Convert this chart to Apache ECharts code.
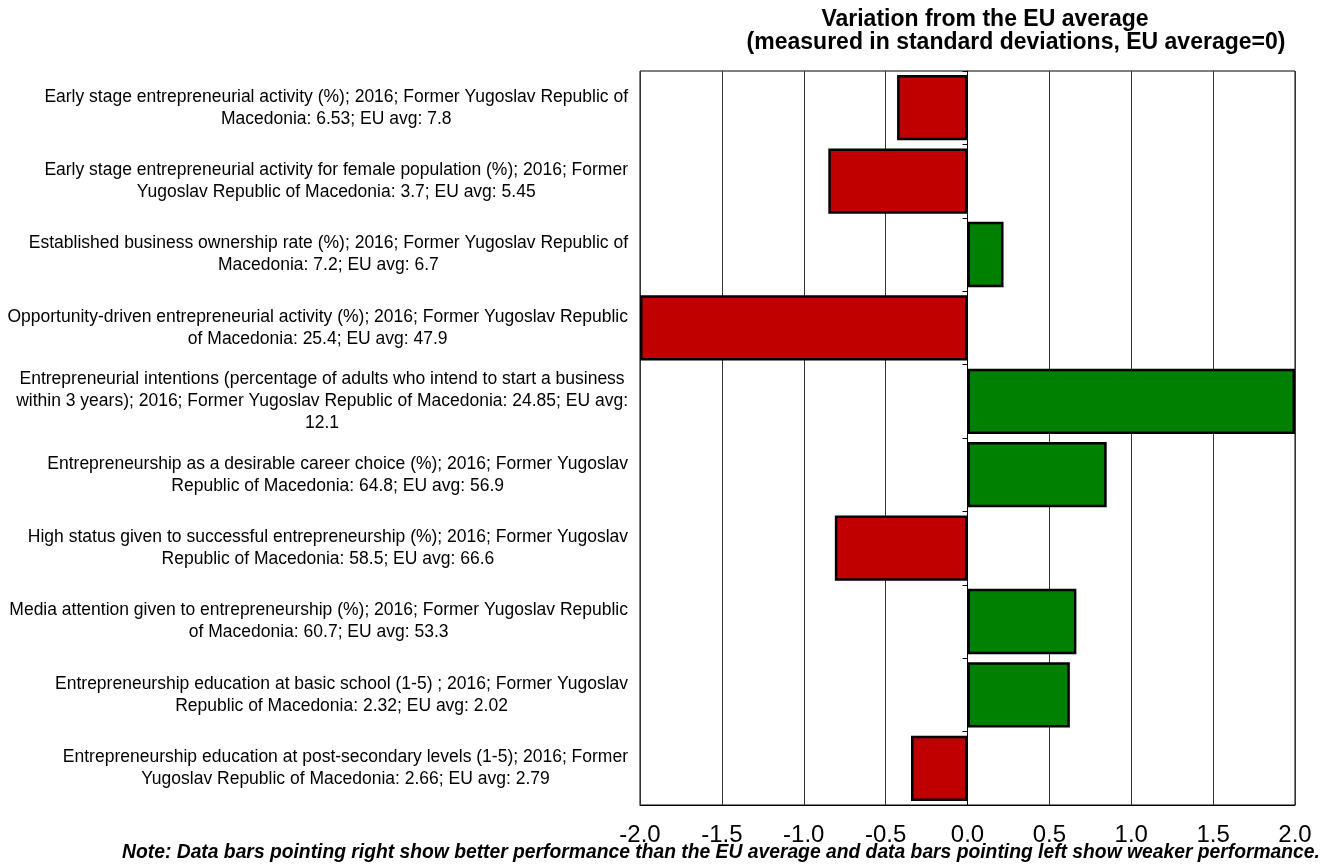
<!DOCTYPE html>
<html>
<head>
<meta charset="utf-8">
<script src="https://cdn.jsdelivr.net/npm/echarts@6/dist/echarts.min.js"></script>
<style>html,body{margin:0;padding:0;background:#fff}#c{width:1325px;height:867px}</style>
</head>
<body>
<div id="c"></div>
<script>
var categories = [
  "Early stage entrepreneurial activity (%); 2016; Former Yugoslav Republic of\nMacedonia: 6.53; EU avg: 7.8",
  "Early stage entrepreneurial activity for female population (%); 2016; Former\nYugoslav Republic of Macedonia: 3.7; EU avg: 5.45",
  "Established business ownership rate (%); 2016; Former Yugoslav Republic of\nMacedonia: 7.2; EU avg: 6.7",
  "Opportunity-driven entrepreneurial activity (%); 2016; Former Yugoslav Republic\nof Macedonia: 25.4; EU avg: 47.9",
  "Entrepreneurial intentions (percentage of adults who intend to start a business\nwithin 3 years); 2016; Former Yugoslav Republic of Macedonia: 24.85; EU avg:\n12.1",
  "Entrepreneurship as a desirable career choice (%); 2016; Former Yugoslav\nRepublic of Macedonia: 64.8; EU avg: 56.9",
  "High status given to successful entrepreneurship (%); 2016; Former Yugoslav\nRepublic of Macedonia: 58.5; EU avg: 66.6",
  "Media attention given to entrepreneurship (%); 2016; Former Yugoslav Republic\nof Macedonia: 60.7; EU avg: 53.3",
  "Entrepreneurship education at basic school (1-5) ; 2016; Former Yugoslav\nRepublic of Macedonia: 2.32; EU avg: 2.02",
  "Entrepreneurship education at post-secondary levels (1-5); 2016; Former\nYugoslav Republic of Macedonia: 2.66; EU avg: 2.79"
];
var values = [-0.43, -0.85, 0.22, -2.0, 2.0, 0.85, -0.81, 0.665, 0.625, -0.345];
var xTicks = [-2.0, -1.5, -1.0, -0.5, 0.0, 0.5, 1.0, 1.5, 2.0];
var titleLine1 = "Variation from the EU average";
var titleLine2 = "(measured in standard deviations, EU average=0)";
var noteText = "Note: Data bars pointing right show better performance than the EU average and data bars pointing left show weaker performance.";

var chart = echarts.init(document.getElementById('c'));
var sans = "'Liberation Sans', Arial, sans-serif";
chart.setOption({
  animation: false,
  backgroundColor: '#fff',
  graphic: [{
    type: 'text', x: 985, y: 8,
    style: {text: titleLine1, font: "bold 23px " + sans, fill: '#000', textAlign: 'center'}
  }, {
    type: 'text', x: 1016, y: 31,
    style: {text: titleLine2, font: "bold 23px " + sans, fill: '#000', textAlign: 'center'}
  }, {
    type: 'text', x: 721, y: 843,
    style: {text: noteText, font: "italic bold 19.3px " + sans, fill: '#000', textAlign: 'center'}
  }],
  grid: {left: 640, right: 30, top: 71, bottom: 62, show: true, borderColor: '#000', borderWidth: 1, backgroundColor: 'transparent'},
  xAxis: {
    type: 'value', min: -2, max: 2, interval: 0.5,
    axisLine: {show: true, lineStyle: {color: '#000', width: 1}},
    axisTick: {show: false},
    splitLine: {show: true, lineStyle: {color: '#333', width: 1}},
    axisLabel: {fontFamily: sans, fontSize: 24, color: '#000', margin: 18,
      formatter: function (v) { var i = xTicks.indexOf(v); return (i >= 0 ? xTicks[i] : v).toFixed(1); }}
  },
  yAxis: [{
    type: 'category', data: categories, inverse: true, position: 'left',
    axisLine: {show: false, onZero: false}, axisTick: {show: false},
    axisLabel: {
      margin: 12,
      formatter: function (v) { return v.split('\n').map(function (s) { return '{a|' + s + '}'; }).join('\n'); },
      rich: {a: {fontFamily: sans, fontSize: 17.5, lineHeight: 22, color: '#000', align: 'center'}}
    }
  }, {
    type: 'category', data: categories, inverse: true, position: 'left',
    axisLine: {show: true, onZero: true, lineStyle: {color: '#000', width: 1}},
    axisTick: {show: true, length: 5, lineStyle: {color: '#000'}},
    axisLabel: {show: false}
  }],
  series: [{
    type: 'bar', yAxisIndex: 0,
    barCategoryGap: '11%',
    data: values.map(function (v) {
      return {value: v, itemStyle: {color: v < 0 ? '#C00000' : '#008000', borderColor: '#000', borderWidth: 2.5}};
    })
  }]
});
</script>
</body>
</html>
